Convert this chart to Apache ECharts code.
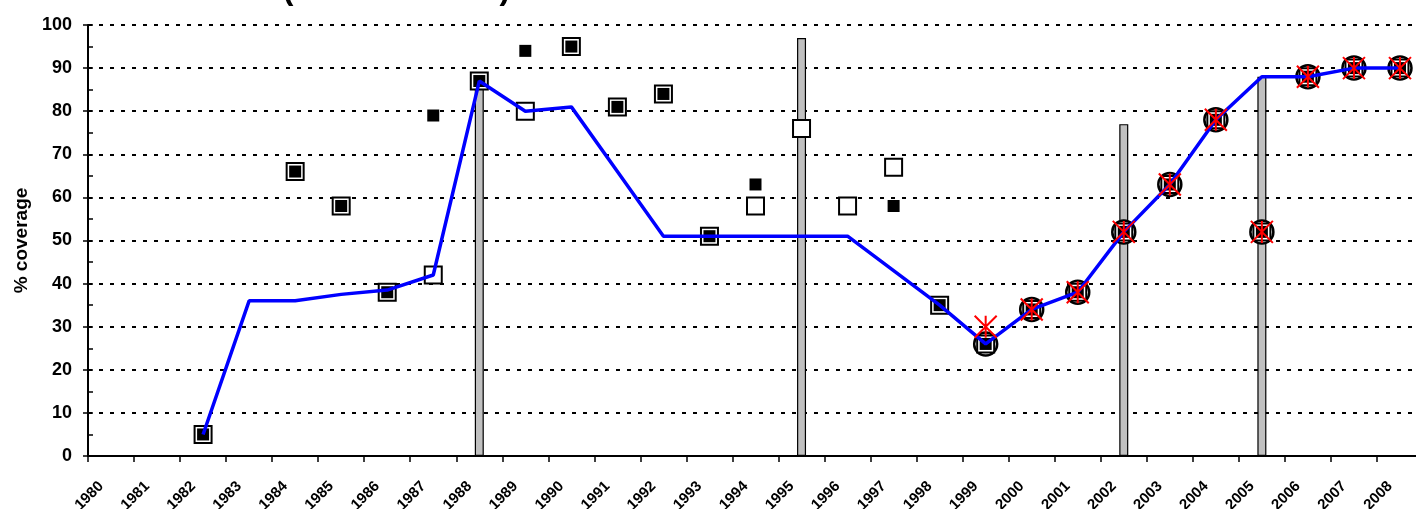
<!DOCTYPE html>
<html>
<head>
<meta charset="utf-8">
<script src="https://cdn.jsdelivr.net/npm/echarts@6/dist/echarts.min.js"></script>
<style>
html,body{margin:0;padding:0;background:#fff;overflow:hidden;}
#chart{width:1423px;height:509px;}
</style>
</head>
<body>
<div id="chart"></div>
<script>
const years = ['1980','1981','1982','1983','1984','1985','1986','1987','1988','1989','1990','1991','1992','1993','1994','1995','1996','1997','1998','1999','2000','2001','2002','2003','2004','2005','2006','2007','2008'];
const yTicks = [0,10,20,30,40,50,60,70,80,90,100];
const surveyBars = [null,null,null,null,null,null,null,null,87,null,null,null,null,null,null,97,null,null,null,null,null,null,77,null,null,88,null,null,null];
const estimateCircles = [null,null,null,null,null,null,null,null,null,null,null,null,null,null,null,null,null,null,null,26,34,38,52,63,78,52,88,90,90];
const officialOpen = [null,null,5,null,66,58,38,42,87,80,95,81,84,51,58,76,58,67,35,26,34,38,52,63,78,52,88,90,90];
const reportedFilled = [null,null,5,null,66,58,38,79,87,94,95,81,84,51,63,null,null,58,35,26,34,38,52,63,78,52,88,90,90];
const wuenicLine = [null,null,5,36,36,37.5,38.5,42,87,80,81,66,51,51,51,51,51,43,35,26,34,38,52,63,78,88,88,90,90];
const redStars = [null,null,null,null,null,null,null,null,null,null,null,null,null,null,null,null,null,null,null,30,34,38,52,63,78,52,88,90,90];

const FONT = 'Liberation Sans, Arial, sans-serif';
const chart = echarts.init(document.getElementById('chart'));
const option = {
  animation: false,
  backgroundColor: '#ffffff',
  title: {
    text: 'DTP3 (WHO/UNICEF)',
    left: 192, top: -26, padding: 0,
    textStyle: {fontFamily: FONT, fontWeight: 'bold', fontSize: 32, color: '#000'}
  },
  grid: {left: 88, right: 0, top: 25, bottom: 53, containLabel: false, outerBoundsMode: 'none'},
  xAxis: {
    type: 'category',
    data: years,
    boundaryGap: true,
    axisLine: {lineStyle: {color: '#000', width: 2}},
    axisTick: {show: true, alignWithLabel: false, length: 6, lineStyle: {color: '#000', width: 1.5}},
    axisLabel: {rotate: 45, interval: 0, margin: 18, padding: [0, 14, 0, 0], fontFamily: FONT, fontWeight: 'bold', fontSize: 15, color: '#000'},
    splitLine: {show: false}
  },
  yAxis: [{
    type: 'value',
    min: yTicks[0], max: yTicks[yTicks.length - 1], interval: 10,
    name: '% coverage',
    nameLocation: 'middle', nameRotate: 90, nameGap: 56,
    nameTextStyle: {fontFamily: FONT, fontWeight: 'bold', fontSize: 19, color: '#000'},
    axisLine: {show: true, lineStyle: {color: '#000', width: 2}},
    axisTick: {show: true, inside: false, length: 5, lineStyle: {color: '#000', width: 1.5}},
    axisLabel: {margin: 16, fontFamily: FONT, fontWeight: 'bold', fontSize: 18, color: '#000'},
    splitLine: {show: true, lineStyle: {color: '#000', width: 2, type: [4, 7]}}
  }, {
    type: 'value',
    position: 'left',
    min: yTicks[0], max: yTicks[yTicks.length - 1], interval: 10,
    axisLine: {show: false},
    axisTick: {show: true, inside: true, length: 5, lineStyle: {color: '#000', width: 1.5}},
    minorTick: {show: true, splitNumber: 2, length: 5, lineStyle: {color: '#000', width: 1.5}},
    axisLabel: {show: false},
    splitLine: {show: false}
  }],
  series: [
    {
      name: 'survey', type: 'bar', data: surveyBars, barWidth: 9,
      itemStyle: {color: '#c0c0c0', borderColor: '#000', borderWidth: 1.2},
      z: 2
    },
    {
      name: 'estimate circle', type: 'scatter', data: estimateCircles,
      symbol: 'circle', symbolSize: 23,
      itemStyle: {color: '#fff', borderColor: '#000', borderWidth: 2.5, opacity: 1},
      z: 3
    },
    {
      name: 'official', type: 'scatter', data: officialOpen,
      symbol: 'rect', symbolSize: 17,
      itemStyle: {color: '#fff', borderColor: '#000', borderWidth: 2, opacity: 1},
      z: 4
    },
    {
      name: 'reported', type: 'scatter', data: reportedFilled,
      symbol: 'rect', symbolSize: 12,
      itemStyle: {color: '#000', opacity: 1},
      z: 5
    },
    {
      name: 'WHO/UNICEF estimate', type: 'line', data: wuenicLine,
      symbol: 'none', connectNulls: false,
      lineStyle: {color: '#0000ff', width: 3.5},
      z: 6
    },
    {
      name: 'star', type: 'scatter', data: redStars,
      symbol: 'path://M0,0L20,20M20,0L0,20M10,0L10,20', symbolSize: 22,
      itemStyle: {color: 'none', borderColor: '#ff0000', borderWidth: 2, opacity: 1},
      z: 7
    }
  ]
};
chart.setOption(option);
</script>
</body>
</html>
